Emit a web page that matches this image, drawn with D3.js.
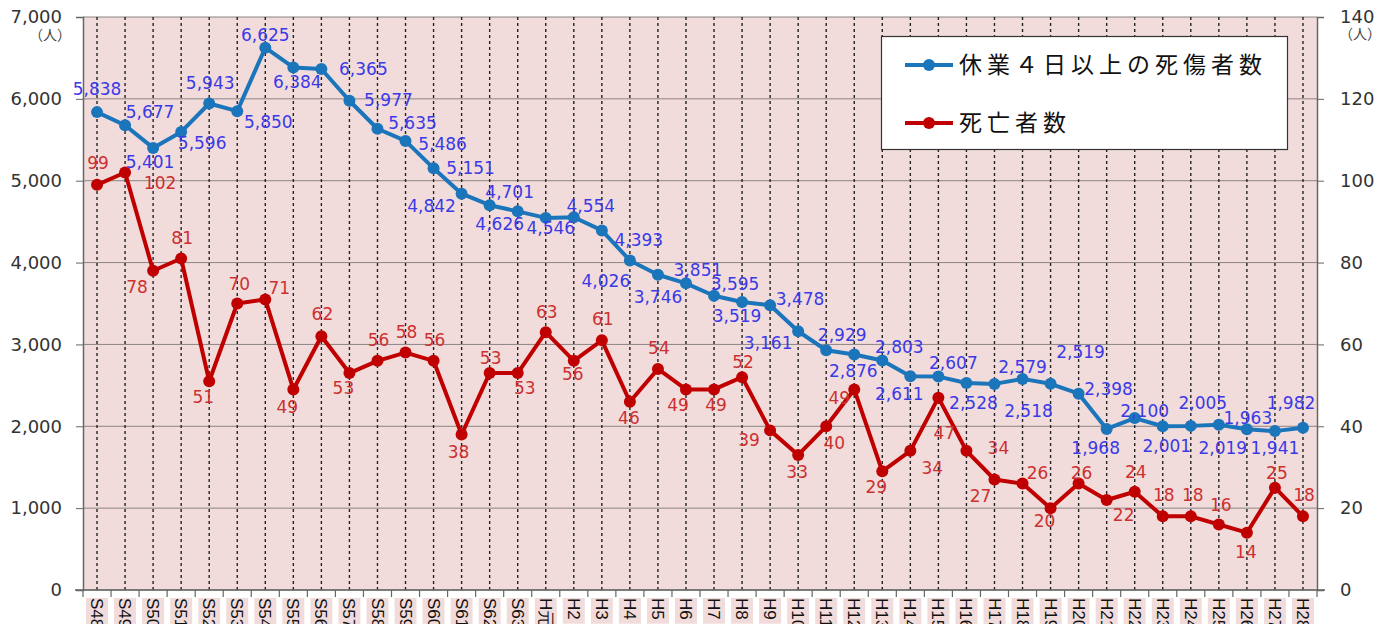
<!DOCTYPE html>
<html lang="ja">
<head>
<meta charset="utf-8"/>
<title>休業4日以上の死傷者数・死亡者数</title>
<script src="https://cdn.jsdelivr.net/npm/d3@7/dist/d3.min.js"></script>
<style>
  body { margin: 0; background: #fff; }
  svg { display: block; }
  .tick text { font-family: "DejaVu Sans", Verdana, sans-serif; }
</style>
</head>
<body>
<script>
// data ------------------------------------------------------------------
const years = ["S48","S49","S50","S51","S52","S53","S54","S55","S56","S57","S58","S59","S60","S61","S62","S63",
               "H元","H2","H3","H4","H5","H6","H7","H8","H9","H10","H11","H12","H13","H14","H15","H16","H17","H18",
               "H19","H20","H21","H22","H23","H24","H25","H26","H27","H28"];
const injured = [5838,5677,5401,5596,5943,5850,6625,6384,6365,5977,5635,5486,5151,4842,4701,4626,
                 4546,4554,4393,4026,3851,3746,3595,3519,3478,3161,2929,2876,2803,2611,2607,2528,2518,2579,
                 2519,2398,1968,2100,2001,2005,2019,1963,1941,1982];
const deaths = [99,102,78,81,51,70,71,49,62,53,56,58,56,38,53,53,
                63,56,61,46,54,49,49,52,39,33,40,49,29,34,47,34,27,26,
                20,26,22,24,18,18,16,14,25,18];
const leftTicks = [0,1000,2000,3000,4000,5000,6000,7000];
const rightTicks = [0,20,40,60,80,100,120,140];
const seriesNames = ["休業４日以上の死傷者数", "死亡者数"];

// label placement (dx, dy from the point), as in the original
const injuredLabelPos = [[0,-23],[25,-13],[-3,14],[21,11],[1,-21],[31,11],[0,-13],[4,14],[42,0],[39,-1],
  [35,-6],[37,3],[37,0],[-30,12],[20,-13],[-18,13],[5,10],[17,-11],[37,9],[-24,20],[40,-5],[-28,14],
  [21,-12],[-5,14],[30,-6],[-30,12],[16,-15],[-1,16],[17,-14],[-11,18],[15,-14],[7,20],[34,27],[0,-12],
  [30,-32],[30,-5],[-11,19],[10,-7],[4,20],[12,-23],[4,23],[1,-11],[0,17],[-12,-25]];
const deathLabelPos = [[1,-22],[35,10],[-16,16],[1,-21],[-6,16],[2,-20],[14,-12],[-6,17],[1,-22],[-6,15],
  [1,-21],[1,-21],[1,-21],[-3,17],[1,-15],[7,15],[1,-20],[-1,13],[1,-21],[-1,16],[1,-21],[-8,15],
  [2,15],[1,-15],[-21,10],[-1,17],[8,17],[-15,8],[-6,16],[22,17],[6,35],[32,-3],[-14,16],[15,-11],
  [-6,13],[3,-11],[17,15],[1,-20],[1,-21],[2,-21],[2,-20],[-1,19],[2,-15],[1,-21]];

// layout ----------------------------------------------------------------
const W = 1392, H = 624;
const pLeft = 83, pRight = 1317, pTop = 17, pBottom = 590;
const blue = "#1b75bb", red = "#c00000";
const blueText = "#3a3ae6", redText = "#cc3030";

const svg = d3.select("body").append("svg").attr("width", W).attr("height", H);

const x = d3.scaleBand().domain(years).range([pLeft, pRight]).padding(0);
const cx = d => x(d) + x.bandwidth() / 2;
const yL = d3.scaleLinear().domain([0, 7000]).range([pBottom, pTop]);
const yR = d3.scaleLinear().domain([0, 140]).range([pBottom, pTop]);

// plot background
svg.append("rect").attr("x", pLeft).attr("y", pTop)
   .attr("width", pRight - pLeft).attr("height", pBottom - pTop)
   .attr("fill", "#f2dcdb");

// horizontal grid
svg.append("g").selectAll("line").data(leftTicks).enter().append("line")
   .attr("x1", pLeft).attr("x2", pRight)
   .attr("y1", d => yL(d)).attr("y2", d => yL(d))
   .attr("stroke", "#8c8484").attr("stroke-width", 1);

// vertical dashed lines at each year
svg.append("g").selectAll("line").data(years).enter().append("line")
   .attr("x1", cx).attr("x2", cx)
   .attr("y1", pTop).attr("y2", pBottom)
   .attr("stroke", "#222").attr("stroke-width", 1.4)
   .attr("stroke-dasharray", "3,3");

// left axis
const gL = svg.append("g").attr("transform", `translate(${pLeft},0)`)
   .call(d3.axisLeft(yL).tickValues(leftTicks).tickFormat(d3.format(",")).tickSize(7).tickPadding(14));
gL.select(".domain").attr("stroke", "#666").attr("stroke-width", 1.5);
gL.selectAll(".tick line").attr("stroke", "#666");
gL.selectAll(".tick text").attr("font-size", 18).attr("fill", "#333");

// right axis
const gR = svg.append("g").attr("transform", `translate(${pRight},0)`)
   .call(d3.axisRight(yR).tickValues(rightTicks).tickSize(7).tickPadding(16));
gR.select(".domain").attr("stroke", "#666").attr("stroke-width", 1.5);
gR.selectAll(".tick line").attr("stroke", "#666");
gR.selectAll(".tick text").attr("font-size", 18).attr("fill", "#333");

// unit labels
svg.append("text").attr("x", 50).attr("y", 40).attr("text-anchor", "middle")
   .attr("font-family", "Noto Sans CJK JP").attr("font-size", 14).attr("fill", "#444").text("（人）");
svg.append("text").attr("x", 1360).attr("y", 39).attr("text-anchor", "middle")
   .attr("font-family", "Noto Sans CJK JP").attr("font-size", 14).attr("fill", "#444").text("（人）");

// x axis
svg.append("line").attr("x1", pLeft - 8).attr("x2", pRight + 8)
   .attr("y1", pBottom).attr("y2", pBottom).attr("stroke", "#666").attr("stroke-width", 1.5);
svg.append("g").selectAll("line").data(years.concat(["end"])).enter().append("line")
   .attr("x1", d => d === "end" ? pRight : x(d)).attr("x2", d => d === "end" ? pRight : x(d))
   .attr("y1", pBottom).attr("y2", pBottom + 7)
   .attr("stroke", "#666").attr("stroke-width", 1.2);

const gX = svg.append("g");
const xl = gX.selectAll("g").data(years).enter().append("g")
   .attr("transform", d => `translate(${cx(d)},${pBottom + 8})`);
xl.append("rect");
xl.append("text")
   .attr("transform", "rotate(90)")
   .attr("dy", "0.35em")
   .attr("font-family", "Liberation Sans, Arial, sans-serif")
   .attr("font-size", 17).attr("fill", "#111")
   .text(d => d);
xl.each(function() {
  const t = d3.select(this).select("text").node().getComputedTextLength();
  d3.select(this).select("rect")
    .attr("x", -11).attr("y", 0).attr("width", 22).attr("height", t + 4)
    .attr("fill", "#f2dcdb");
});

// lines
const lineL = d3.line().x((d, i) => cx(years[i])).y(d => yL(d));
const lineR = d3.line().x((d, i) => cx(years[i])).y(d => yR(d));

svg.append("path").datum(injured).attr("d", lineL)
   .attr("fill", "none").attr("stroke", blue).attr("stroke-width", 4).attr("stroke-linejoin", "round");
svg.append("path").datum(deaths).attr("d", lineR)
   .attr("fill", "none").attr("stroke", red).attr("stroke-width", 4).attr("stroke-linejoin", "round");

svg.append("g").selectAll("circle").data(injured).enter().append("circle")
   .attr("cx", (d, i) => cx(years[i])).attr("cy", d => yL(d)).attr("r", 6).attr("fill", blue);
svg.append("g").selectAll("circle").data(deaths).enter().append("circle")
   .attr("cx", (d, i) => cx(years[i])).attr("cy", d => yR(d)).attr("r", 6).attr("fill", red);

// data labels
svg.append("g").selectAll("text").data(injured).enter().append("text")
   .attr("x", (d, i) => cx(years[i]) + injuredLabelPos[i][0])
   .attr("y", (d, i) => yL(d) + injuredLabelPos[i][1])
   .attr("dy", "0.36em").attr("text-anchor", "middle")
   .attr("font-family", "DejaVu Sans, Verdana, sans-serif").attr("font-size", 17)
   .attr("fill", blueText)
   .text(d => d3.format(",")(d));
svg.append("g").selectAll("text").data(deaths).enter().append("text")
   .attr("x", (d, i) => cx(years[i]) + deathLabelPos[i][0])
   .attr("y", (d, i) => yR(d) + deathLabelPos[i][1])
   .attr("dy", "0.36em").attr("text-anchor", "middle")
   .attr("font-family", "DejaVu Sans, Verdana, sans-serif").attr("font-size", 17)
   .attr("fill", redText)
   .text(d => d);

// legend
const lg = svg.append("g");
lg.append("rect").attr("x", 881.5).attr("y", 36.5).attr("width", 406).attr("height", 113)
  .attr("fill", "#fff").attr("stroke", "#333").attr("stroke-width", 1.2);
const legendItems = [{name: seriesNames[0], color: blue, y: 65}, {name: seriesNames[1], color: red, y: 123}];
const li = lg.selectAll("g").data(legendItems).enter().append("g");
li.append("line").attr("x1", 905).attr("x2", 953).attr("y1", d => d.y).attr("y2", d => d.y)
  .attr("stroke", d => d.color).attr("stroke-width", 4);
li.append("circle").attr("cx", 929).attr("cy", d => d.y).attr("r", 6).attr("fill", d => d.color);
li.append("text").attr("x", 959).attr("y", d => d.y).attr("dy", "0.36em")
  .attr("font-family", "Noto Sans CJK JP").attr("font-size", 23).attr("letter-spacing", 5)
  .attr("fill", "#111").text(d => d.name);
</script>
</body>
</html>
